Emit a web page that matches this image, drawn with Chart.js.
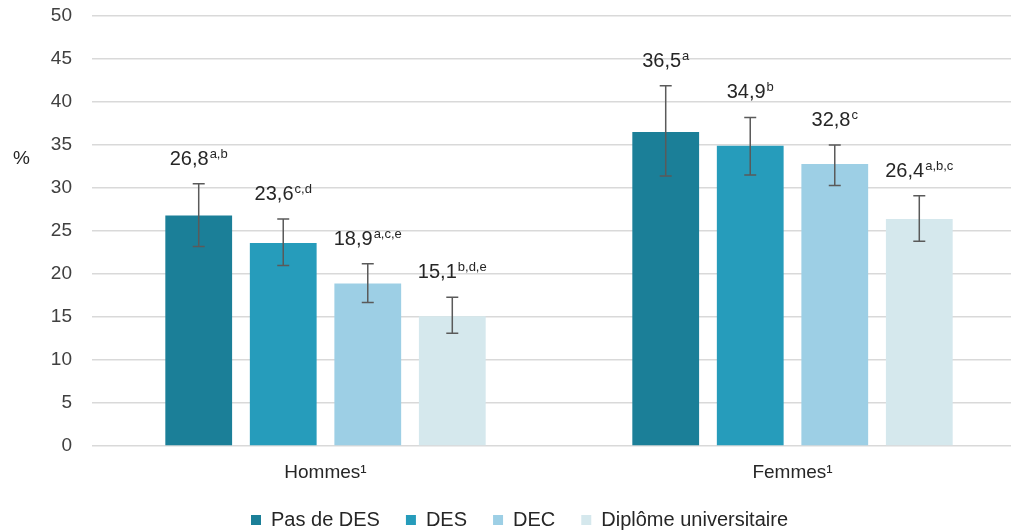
<!DOCTYPE html>
<html><head><meta charset="utf-8">
<script src="https://cdn.jsdelivr.net/npm/chart.js@4.4.1/dist/chart.umd.min.js"></script>
<style>html,body{margin:0;padding:0;overflow:hidden;background:#fff}#wrap{width:1040px;height:540px}</style>
</head><body><div id="wrap"><canvas id="c" width="1040" height="540"></canvas></div>
<script>
const categories = ['Hommes¹', 'Femmes¹'];
const seriesNames = ['Pas de DES', 'DES', 'DEC', 'Diplôme universitaire'];
const pasDeDES = [26.8, 36.5];
const des = [23.6, 34.9];
const dec = [18.9, 32.8];
const diplomeUniv = [15.1, 26.4];
const pasDeDESLow = [23.2, 31.4];
const pasDeDESHigh = [30.5, 41.9];
const desLow = [21.0, 31.5];
const desHigh = [26.4, 38.2];
const decLow = [16.7, 30.3];
const decHigh = [21.2, 35.0];
const diplomeUnivLow = [13.1, 23.8];
const diplomeUnivHigh = [17.3, 29.1];
const pasDeDESSup = ['a,b', 'a'];
const desSup = ['c,d', 'b'];
const decSup = ['a,c,e', 'c'];
const diplomeUnivSup = ['b,d,e', 'a,b,c'];
const yTicks = [0, 5, 10, 15, 20, 25, 30, 35, 40, 45, 50];

const FONT = "'Liberation Sans', Arial, Helvetica, sans-serif";
const colors = ['#1b7f98', '#269cbb', '#9dcfe5', '#d5e8ed'];
const values = [pasDeDES, des, dec, diplomeUniv];
const lows = [pasDeDESLow, desLow, decLow, diplomeUnivLow];
const highs = [pasDeDESHigh, desHigh, decHigh, diplomeUnivHigh];
const sups = [pasDeDESSup, desSup, decSup, diplomeUnivSup];

const overlay = {
  id: 'overlay',
  afterDatasetsDraw(chart) {
    const ctx = chart.ctx;
    const y = chart.scales.y;
    ctx.save();
    values.forEach((vals, i) => {
      const meta = chart.getDatasetMeta(i);
      meta.data.forEach((bar, j) => {
        const x = bar.x;
        const yl = y.getPixelForValue(lows[i][j]);
        const yh = y.getPixelForValue(highs[i][j]);
        ctx.strokeStyle = '#5a5a5a';
        ctx.lineWidth = 1.5;
        ctx.beginPath();
        ctx.moveTo(x, yl); ctx.lineTo(x, yh);
        ctx.moveTo(x - 6, yl); ctx.lineTo(x + 6, yl);
        ctx.moveTo(x - 6, yh); ctx.lineTo(x + 6, yh);
        ctx.stroke();
        const main = vals[j].toFixed(1).replace('.', ',');
        const sup = sups[i][j];
        ctx.font = '20px ' + FONT;
        const w1 = ctx.measureText(main).width;
        ctx.font = '13px ' + FONT;
        const w2 = ctx.measureText(sup).width;
        const total = w1 + 1 + w2;
        const sx = x - total / 2;
        const by = yh - 19;
        ctx.fillStyle = '#262626';
        ctx.textAlign = 'left';
        ctx.textBaseline = 'alphabetic';
        ctx.font = '20px ' + FONT;
        ctx.fillText(main, sx, by);
        ctx.font = '13px ' + FONT;
        ctx.fillText(sup, sx + w1 + 1, by - 7);
      });
    });
    ctx.font = '19px ' + FONT;
    ctx.fillStyle = '#262626';
    ctx.textAlign = 'left';
    ctx.textBaseline = 'middle';
    ctx.fillText('%', 13, 159);
    ctx.restore();
  }
};

new Chart(document.getElementById('c'), {
  type: 'bar',
  data: {
    labels: categories,
    datasets: values.map((v, i) => ({
      label: seriesNames[i],
      data: v,
      backgroundColor: colors[i],
      borderWidth: 0,
      categoryPercentage: 0.724,
      barPercentage: 0.79
    }))
  },
  options: {
    responsive: false,
    animation: false,
    devicePixelRatio: 1,
    layout: { padding: { left: 13, right: 14, top: 16, bottom: 0 } },
    plugins: {
      tooltip: { enabled: false },
      legend: {
        position: 'bottom',
        labels: {
          boxWidth: 10, boxHeight: 10, padding: 26,
          color: '#262626',
          font: { family: FONT, size: 20 }
        }
      }
    },
    scales: {
      x: {
        grid: { display: false, drawTicks: false },
        border: { display: false },
        ticks: { color: '#262626', padding: 15, font: { family: FONT, size: 19 } },
        afterFit(s) { s.height = 38; }
      },
      y: {
        min: 0, max: 50,
        afterBuildTicks(s) { s.ticks = yTicks.map(v => ({ value: v })); },
        grid: { color: '#d9d9d9', lineWidth: 1.5, drawTicks: false },
        border: { display: false },
        ticks: { color: '#404040', padding: 20, font: { family: FONT, size: 19 } },
        afterFit(s) { s.width = 79; s.paddingTop = 0; s.paddingBottom = 0; }
      }
    }
  },
  plugins: [overlay]
});
</script>
</body></html>
